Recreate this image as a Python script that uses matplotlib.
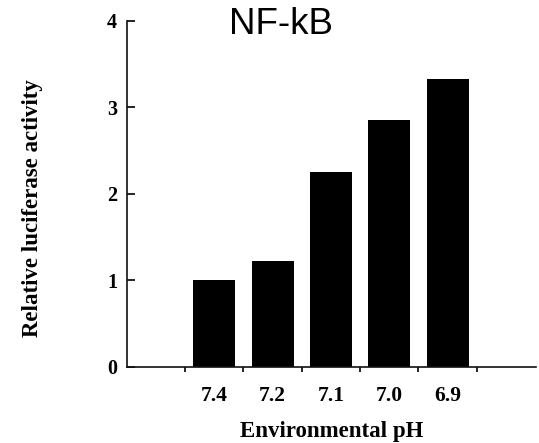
import matplotlib
matplotlib.use("Agg")
import matplotlib.pyplot as plt
from matplotlib.ticker import FixedLocator

# pH conditions and measured relative luciferase activity
ph_labels = ["7.4", "7.2", "7.1", "7.0", "6.9"]
activity = [1.00, 1.22, 2.25, 2.85, 3.33]
y_ticks = [0, 1, 2, 3, 4]

serif_bold = dict(family="Liberation Serif", weight="bold")

fig = plt.figure(figsize=(5.39, 4.43), dpi=100)
ax = fig.add_axes([0.235, 0.1716, 0.76, 0.7817])

positions = list(range(1, len(activity) + 1))
ax.bar(positions, activity, width=0.72, color="black", edgecolor="none")

ax.set_xlim(-0.5, 6.52)
ax.set_ylim(0, 4)

for side in ("top", "right"):
    ax.spines[side].set_visible(False)
for side in ("left", "bottom"):
    ax.spines[side].set_linewidth(1.2)
    ax.spines[side].set_color("#111111")

# y axis: inward ticks, bold serif numbers
ax.set_yticks(y_ticks)
ax.set_yticklabels([str(v) for v in y_ticks], **serif_bold, fontsize=14.5)
ax.tick_params(axis="y", direction="in", length=6, width=1.2, pad=7)

# x axis: category labels under bars, small outward ticks between bars
ax.set_xticks(positions)
ax.set_xticklabels(ph_labels, **serif_bold, fontsize=15.5)
ax.tick_params(axis="x", which="major", length=0, pad=14)
ax.xaxis.set_minor_locator(FixedLocator([p - 0.5 for p in positions] + [positions[-1] + 0.5]))
ax.tick_params(axis="x", which="minor", direction="out", length=3.5, width=1.2)

fig.text(332 / 539, 1 - 432 / 443, "Environmental pH", **serif_bold, fontsize=16.5,
         ha="center", va="center")
fig.text(33 / 539, 1 - 208 / 443, "Relative luciferase activity", **serif_bold,
         fontsize=16.5, rotation=90, ha="center", va="center")

fig.text(281 / 539, 1 - 25 / 443, "NF-kB", family="Liberation Sans", fontsize=26.5,
         ha="center", va="center")

fig.savefig("out.png", dpi=100)
